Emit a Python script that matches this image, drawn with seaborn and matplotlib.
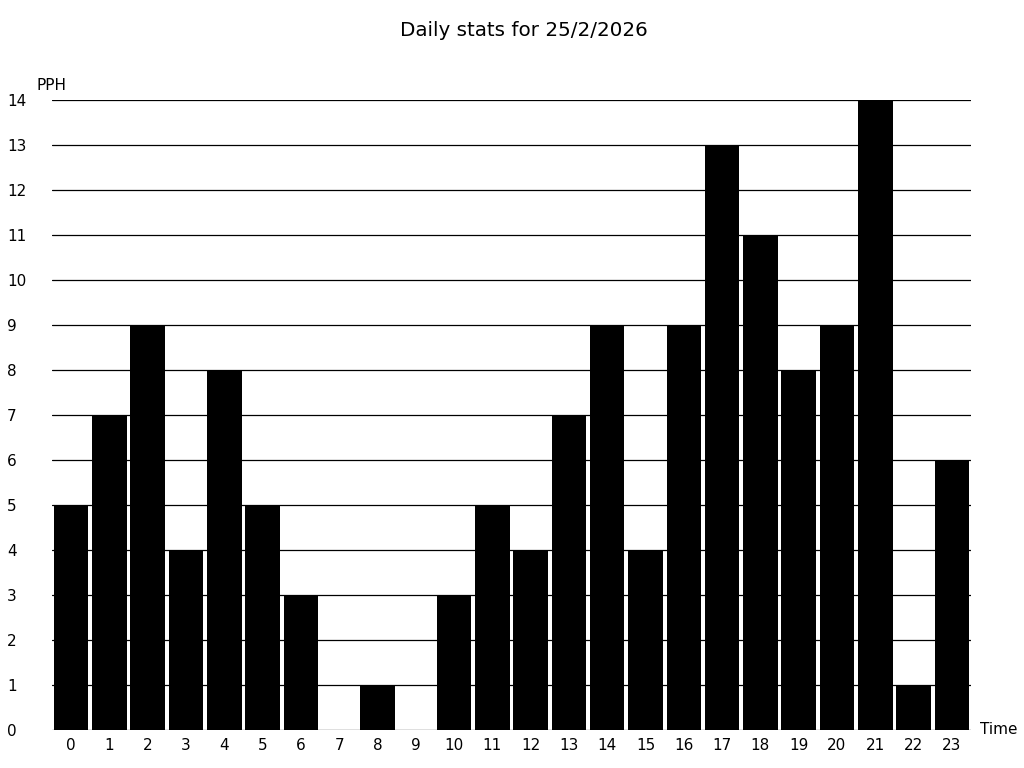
import matplotlib
matplotlib.use("Agg")
import matplotlib.pyplot as plt
import seaborn as sns
import pandas as pd

hours = list(range(24))
pph = [5, 7, 9, 4, 8, 5, 3, 0, 1, 0, 3, 5, 4, 7, 9, 4, 9, 13, 11, 8, 9, 14, 1, 6]
title = "Daily stats for 25/2/2026"

sns.set_theme(style="white")
plt.rcParams['font.family'] = ['DejaVu Sans']

df = pd.DataFrame({"hour": [str(h) for h in hours], "pph": pph})

fig = plt.figure(figsize=(10.24, 7.68), dpi=100)
ax = fig.add_axes([52/1024, 38/768, (971-52)/1024, (730-100)/768])
sns.barplot(data=df, x="hour", y="pph", color="black", width=0.9, ax=ax,
            saturation=1, edgecolor="none")
ax.set_xlim(-0.5, 23.5)
ax.set_ylim(0, 14)
ax.set_yticks(range(0, 15))
ax.set_axisbelow(False)
ax.yaxis.grid(True, color="black", linewidth=0.9)
ax.xaxis.grid(False)
for s in ax.spines.values():
    s.set_visible(False)
ax.tick_params(axis="y", length=0, pad=45 * 72 / 100, labelsize=11, colors="black")
ax.tick_params(axis="x", length=0, pad=6, labelsize=11, colors="black")
for lbl in ax.get_yticklabels():
    lbl.set_horizontalalignment("left")
ax.set_xlabel("")
ax.set_ylabel("")
fig.text(37/1024, 1 - 85/768, "PPH", fontsize=11, ha="left", va="center", color="black")
fig.text(980/1024, 1 - 730/768, "Time", fontsize=11, ha="left", va="center", color="black")
fig.text(524/1024, 1 - 30/768, title, fontsize=14.3, ha="center", va="center", color="black")
fig.savefig("out.png", dpi=100)
